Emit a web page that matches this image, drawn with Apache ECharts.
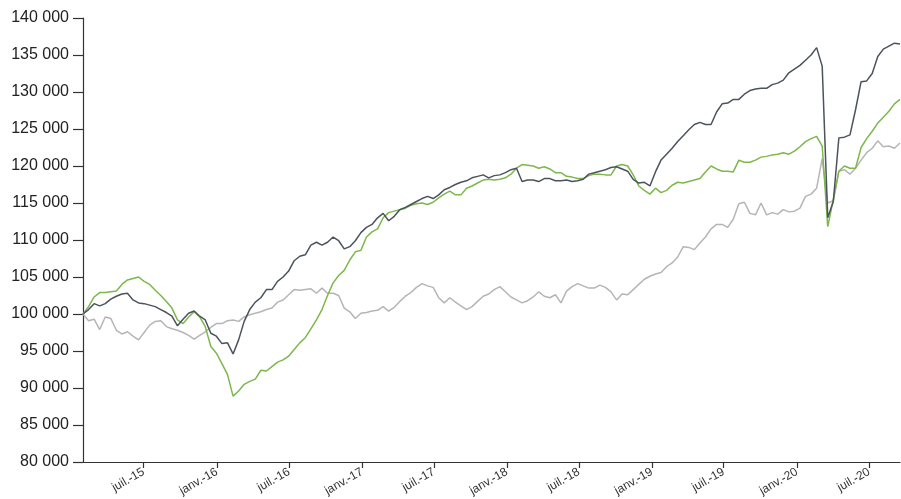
<!DOCTYPE html>
<html>
<head>
<meta charset="utf-8">
<script src="https://cdn.jsdelivr.net/npm/echarts@6/dist/echarts.min.js"></script>
<style>
  html, body { margin: 0; padding: 0; background: #fff; }
  #chart { width: 901px; height: 499px; }
</style>
</head>
<body>
<div id="chart"></div>
<script>
// Fortnightly observations starting 29 Jan 2015
const startDate = Date.UTC(2015, 0, 29);
const stepDays = 14;

// Portfolio values (dark line)
const seriesDark = [
  100000, 100600, 101400, 101100, 101400, 102000, 102400, 102700, 102800, 101900,
  101500, 101400, 101200, 101000, 100600, 100200, 99700, 98400, 99300, 100100,
  100400, 99700, 99200, 97400, 97000, 96000, 96100, 94600, 96500, 99000,
  100600, 101600, 102200, 103300, 103300, 104400, 105000, 105800, 107200, 107800,
  108000, 109300, 109700, 109300, 109700, 110400, 109900, 108800, 109100, 109900,
  111000, 111700, 112100, 113000, 113600, 112600, 113200, 114100, 114400, 114800,
  115200, 115600, 115900, 115600, 116100, 116800, 117100, 117500, 117800, 118000,
  118400, 118600, 118800, 118400, 118700, 118800, 119100, 119500, 119700, 117900,
  118100, 118100, 117900, 118300, 118300, 118000, 118000, 118100, 117900, 118000,
  118200, 118900, 119100, 119300, 119500, 119800, 119900, 119600, 119300, 118200,
  117700, 117800, 117300, 119200, 120800, 121600, 122400, 123300, 124100, 124900,
  125600, 125900, 125600, 125600, 127300, 128400, 128500, 129000, 129000, 129700,
  130200, 130400, 130500, 130500, 131000, 131200, 131600, 132600, 133100, 133600,
  134300, 135000, 136000, 133500, 113000, 115200, 123800, 123900, 124200, 127600,
  131400, 131500, 132500, 134800, 135800, 136200, 136600, 136500
];

// Green line
const seriesGreen = [
  100000, 101000, 102300, 102900, 102900, 103000, 103100, 104000, 104600, 104800,
  105000, 104400, 104000, 103200, 102500, 101700, 100800, 99200, 98700, 99600,
  100300, 99600, 98300, 95600, 94700, 93300, 91800, 88900, 89600, 90500,
  90900, 91200, 92400, 92300, 92900, 93500, 93800, 94300, 95200, 96100,
  96800, 98000, 99200, 100600, 102500, 104200, 105200, 105900, 107300, 108400,
  108600, 110400, 111100, 111500, 113000, 113700, 113900, 114100, 114300, 114700,
  114900, 115000, 114800, 115100, 115700, 116200, 116600, 116100, 116100, 117000,
  117300, 117700, 118100, 118200, 118100, 118200, 118400, 118900, 119700, 120200,
  120100, 120000, 119700, 119900, 119600, 119100, 119100, 118600, 118500, 118300,
  118300, 118700, 118900, 118900, 118800, 118800, 120000, 120200, 120000, 118800,
  117300, 116700, 116200, 117000, 116400, 116700, 117400, 117800, 117700, 117900,
  118100, 118300, 119200, 120000, 119600, 119300, 119300, 119200, 120800, 120500,
  120500, 120800, 121200, 121300, 121500, 121600, 121800, 121600, 122000, 122600,
  123300, 123700, 124000, 122700, 111800, 115500, 119300, 120000, 119700, 119700,
  122500, 123700, 124700, 125800, 126600, 127400, 128400, 129000
];

// Light grey line
const seriesGrey = [
  100000, 99100, 99300, 97900, 99600, 99400, 97800, 97300, 97600, 97000,
  96500, 97500, 98500, 99000, 99100, 98300, 98000, 97800, 97500, 97100,
  96600, 97100, 97600, 98200, 98700, 98700, 99100, 99200, 99000, 99600,
  99900, 100100, 100300, 100600, 100800, 101600, 101900, 102600, 103300, 103200,
  103300, 103400, 102800, 103500, 102800, 102800, 102500, 100800, 100300, 99400,
  100100, 100200, 100400, 100500, 101000, 100400, 100900, 101700, 102400, 102900,
  103600, 104100, 103800, 103600, 102200, 101500, 102200, 101600, 101100, 100600,
  101000, 101700, 102400, 102700, 103300, 103700, 103000, 102300, 101900, 101500,
  101800, 102300, 103000, 102400, 102200, 102600, 101500, 103100, 103700, 104100,
  103800, 103500, 103500, 103900, 103600, 103000, 101900, 102700, 102600, 103300,
  104000, 104700, 105100, 105400, 105600, 106400, 106900, 107700, 109100, 109000,
  108700, 109600, 110400, 111500, 112100, 112100, 111700, 112800, 114900, 115100,
  113600, 113400, 115000, 113400, 113700, 113500, 114100, 113800, 113900, 114300,
  115900, 116200, 117000, 121000, 115000, 115300, 119300, 119500, 118900, 119700,
  120800, 121800, 122400, 123400, 122600, 122700, 122400, 123100
];

// Half-yearly tick marks along the date axis
const tickDates = [
  [2015, 6], [2016, 0], [2016, 6], [2017, 0], [2017, 6], [2018, 0],
  [2018, 6], [2019, 0], [2019, 6], [2020, 0], [2020, 6]
];
const monthNames = ['janv.', 'févr.', 'mars', 'avr.', 'mai', 'juin',
  'juil.', 'août', 'sept.', 'oct.', 'nov.', 'déc.'];

const yMin = 80000, yMax = 140000, yStep = 5000;

const dayMs = 86400000;
const dates = seriesDark.map((_, i) => startDate + i * stepDays * dayMs);
const tickValues = tickDates.map(([y, m]) => Date.UTC(y, m, 1));

const pair = arr => arr.map((v, i) => [dates[i], v]);

function fmtThousands(v) {
  return String(v).replace(/\B(?=(\d{3})+(?!\d))/g, ' ');
}
function fmtMonth(ts) {
  const d = new Date(ts);
  return monthNames[d.getUTCMonth()] + '-' + String(d.getUTCFullYear()).slice(2);
}

const chart = echarts.init(document.getElementById('chart'), null, { renderer: 'canvas' });
chart.setOption({
  animation: false,
  backgroundColor: '#ffffff',
  grid: { left: 83, right: 1, top: 18, bottom: 37, containLabel: false },
  xAxis: {
    type: 'value',
    min: dates[0],
    max: dates[dates.length - 1],
    axisLine: { show: true, lineStyle: { color: '#333', width: 1.2 } },
    axisTick: { show: true, customValues: tickValues, length: 6, lineStyle: { color: '#333', width: 1.2 } },
    axisLabel: {
      customValues: tickValues,
      formatter: fmtMonth,
      rotate: 30,
      margin: 9,
      fontFamily: 'Liberation Sans, Arial, sans-serif',
      fontSize: 12,
      color: '#333'
    },
    splitLine: { show: false }
  },
  yAxis: {
    type: 'value',
    min: yMin,
    max: yMax,
    interval: yStep,
    axisLine: { show: true, lineStyle: { color: '#333', width: 1.2 } },
    axisTick: { show: true, length: 10, lineStyle: { color: '#333', width: 1.2 } },
    axisLabel: {
      formatter: fmtThousands,
      margin: 14,
      fontFamily: 'Liberation Sans, Arial, sans-serif',
      fontSize: 16,
      color: '#222'
    },
    splitLine: { show: false }
  },
  series: [
    {
      type: 'line', data: pair(seriesGrey), showSymbol: false,
      lineStyle: { color: '#b5b5b5', width: 1.5 }, z: 1
    },
    {
      type: 'line', data: pair(seriesGreen), showSymbol: false,
      lineStyle: { color: '#7cb84a', width: 1.5 }, z: 2
    },
    {
      type: 'line', data: pair(seriesDark), showSymbol: false,
      lineStyle: { color: '#4b535e', width: 1.5 }, z: 3
    }
  ]
});
</script>
</body>
</html>
